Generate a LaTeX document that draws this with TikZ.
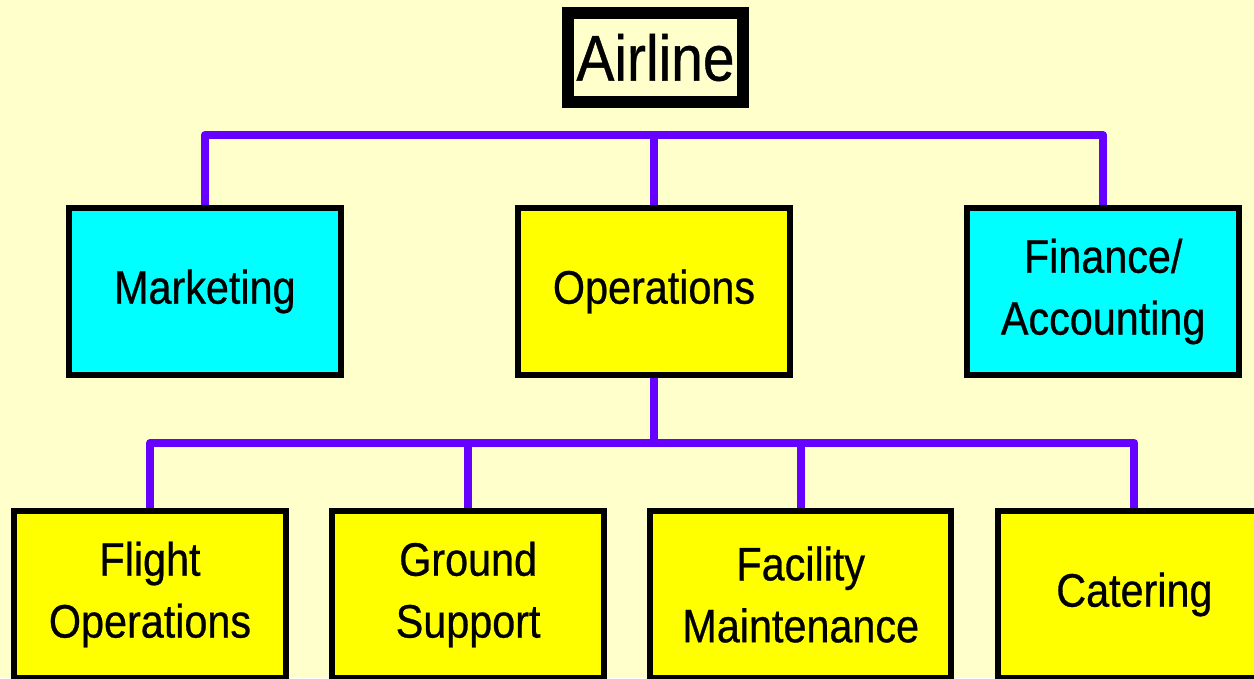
\documentclass[tikz,border=0pt]{standalone}
\usepackage{fontspec}
\setmainfont{Liberation Sans}[FakeStretch=0.88,FakeBold=0.6]
\usetikzlibrary{positioning}

\definecolor{slidebg}{RGB}{255,255,204}
\definecolor{busviolet}{RGB}{102,0,255}
\definecolor{deptcyan}{RGB}{0,255,255}
\definecolor{deptyellow}{RGB}{255,255,0}

\begin{document}
\begin{tikzpicture}[
    x=0.025cm, y=-0.025cm,
    node distance=0cm and 4.275cm,
    unit/.style={draw, line width=4.3pt, rectangle, align=center, inner sep=0pt, minimum width=6.8cm, minimum height=4.175cm, font=\fontsize{33.4pt}{44pt}\selectfont},
    topbox/.style={draw, line width=8.5pt, rectangle, inner sep=0pt, minimum width=4.375cm, minimum height=2.225cm, fill=slidebg, font=\fontsize{46pt}{50pt}\selectfont},
    bus/.style={draw=busviolet, line width=5.7pt, line join=round}
]

% Hintergrund / Seitenformat
\fill[slidebg] (0,0) rectangle (1254,678);
\useasboundingbox (0,0) rectangle (1254,678);

% Spitze
\node[topbox] (air) at (655.5,57.5) {Airline};

% Ebene 1: drei Bereiche
\node[unit, fill=deptyellow] (ops) at (654,291.5) {Operations};
\node[unit, fill=deptcyan, left=of ops] (mkt) {Marketing};
\node[unit, fill=deptcyan, right=of ops] (fin) {Finance/\\Accounting};

% Ebene 2: unter Operations
\node[unit, fill=deptyellow] (flt) at (150,594.5) {Flight\\Operations};
\node[unit, fill=deptyellow, right=1.0cm of flt] (gnd) {Ground\\Support};
\node[unit, fill=deptyellow, minimum width=7.525cm, right=1.0cm of gnd] (fac) {Facility\\Maintenance};
\node[unit, fill=deptyellow, right=1.025cm of fac] (cat) {Catering};

% Sammelschienen
\coordinate (topbus) at (654,135);
\coordinate (lowbus) at (654,443);

% Linien Ebene 1
\draw[bus] (mkt.north) |- (topbus) -| (fin.north);
\draw[bus] (ops.north) -- (topbus);

% Linien Ebene 2
\draw[bus] (ops.south) -- (lowbus);
\draw[bus] (flt.north) |- (lowbus) -| (cat.north);
\draw[bus] (gnd.north) -- (gnd.north |- lowbus);
\draw[bus] (fac.north) -- (fac.north |- lowbus);

\end{tikzpicture}
\end{document}
